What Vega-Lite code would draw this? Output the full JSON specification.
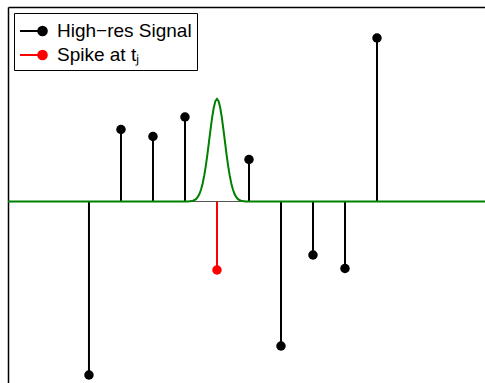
{
  "$schema": "https://vega.github.io/schema/vega-lite/v6.json",
  "width": 477,
  "height": 376,
  "padding": {"left": 8, "top": 7, "right": 0, "bottom": 0},
  "autosize": {"type": "none"},
  "background": "white",
  "config": {
    "view": {"stroke": null},
    "axis": {"domain": true, "domainColor": "black", "domainWidth": 1.5, "ticks": false, "labels": false, "grid": false, "title": null}
  },
  "datasets": {
    "stems": [
      {"t": 1, "v": -1.735, "series": "High−res Signal"},
      {"t": 2, "v": 0.72, "series": "High−res Signal"},
      {"t": 3, "v": 0.65, "series": "High−res Signal"},
      {"t": 4, "v": 0.845, "series": "High−res Signal"},
      {"t": 5, "v": -0.685, "series": "Spike at tⱼ"},
      {"t": 6, "v": 0.42, "series": "High−res Signal"},
      {"t": 7, "v": -1.445, "series": "High−res Signal"},
      {"t": 8, "v": -0.535, "series": "High−res Signal"},
      {"t": 9, "v": -0.67, "series": "High−res Signal"},
      {"t": 10, "v": 1.635, "series": "High−res Signal"}
    ],
    "gauss": [
      {"t": -1.53, "g": 0},
      {"t": 4.0, "g": 0},
      {"t": 4.1, "g": 0.001},
      {"t": 4.2, "g": 0.004},
      {"t": 4.25, "g": 0.008},
      {"t": 4.3, "g": 0.015},
      {"t": 4.35, "g": 0.026},
      {"t": 4.4, "g": 0.045},
      {"t": 4.45, "g": 0.074},
      {"t": 4.5, "g": 0.117},
      {"t": 4.55, "g": 0.177},
      {"t": 4.6, "g": 0.256},
      {"t": 4.65, "g": 0.354},
      {"t": 4.7, "g": 0.469},
      {"t": 4.75, "g": 0.596},
      {"t": 4.8, "g": 0.724},
      {"t": 4.85, "g": 0.843},
      {"t": 4.9, "g": 0.94},
      {"t": 4.95, "g": 1.003},
      {"t": 5.0, "g": 1.025},
      {"t": 5.05, "g": 1.003},
      {"t": 5.1, "g": 0.94},
      {"t": 5.15, "g": 0.843},
      {"t": 5.2, "g": 0.724},
      {"t": 5.25, "g": 0.596},
      {"t": 5.3, "g": 0.469},
      {"t": 5.35, "g": 0.354},
      {"t": 5.4, "g": 0.256},
      {"t": 5.45, "g": 0.177},
      {"t": 5.5, "g": 0.117},
      {"t": 5.55, "g": 0.074},
      {"t": 5.6, "g": 0.045},
      {"t": 5.65, "g": 0.026},
      {"t": 5.7, "g": 0.015},
      {"t": 5.75, "g": 0.008},
      {"t": 5.8, "g": 0.004},
      {"t": 5.9, "g": 0.001},
      {"t": 6.0, "g": 0},
      {"t": 13.375, "g": 0}
    ]
  },
  "layer": [
    {
      "data": {"name": "stems"},
      "mark": {"type": "rule", "color": "#555555", "strokeWidth": 1},
      "encoding": {
        "y": {"datum": 0, "type": "quantitative", "scale": {"domain": [-1.815, 1.945], "nice": false, "zero": false}}
      }
    },
    {
      "data": {"name": "stems"},
      "mark": {"type": "rule", "strokeWidth": 2},
      "encoding": {
        "x": {"field": "t", "type": "quantitative", "scale": {"domain": [-1.53, 13.375], "nice": false, "zero": false}, "axis": {"orient": "top", "title": null}},
        "y": {"field": "v", "type": "quantitative", "scale": {"domain": [-1.815, 1.945], "nice": false, "zero": false}, "axis": {"orient": "left", "title": null}},
        "y2": {"datum": 0},
        "color": {
          "field": "series", "type": "nominal",
          "scale": {"domain": ["High−res Signal", "Spike at tⱼ"], "range": ["black", "#ff0000"]},
          "legend": {
            "title": null,
            "orient": "none",
            "legendX": 6,
            "legendY": 6,
            "strokeColor": "black",
            "fillColor": "white",
            "padding": 5,
            "symbolType": "M-1,0L0.875,0M1.235,0A0.36,0.36,0,1,1,0.515,0A0.36,0.36,0,1,1,1.235,0Z",
            "symbolSize": 576,
            "symbolStrokeWidth": 2,
            "labelFont": "Liberation Sans",
            "labelFontSize": 19,
            "labelColor": "black",
            "labelOffset": 12,
            "rowPadding": 1,
            "labelLimit": 300,
            "encode": {"symbols": {"update": {"fill": {"scale": "color", "field": "value"}, "stroke": {"scale": "color", "field": "value"}, "opacity": {"value": 1}}}}
          }
        }
      }
    },
    {
      "data": {"name": "stems"},
      "mark": {"type": "point", "filled": true, "size": 90, "opacity": 1},
      "encoding": {
        "x": {"field": "t", "type": "quantitative"},
        "y": {"field": "v", "type": "quantitative"},
        "color": {"field": "series", "type": "nominal"}
      }
    },
    {
      "data": {"name": "gauss"},
      "mark": {"type": "line", "color": "#008000", "strokeWidth": 2},
      "encoding": {
        "x": {"field": "t", "type": "quantitative"},
        "y": {"field": "g", "type": "quantitative"}
      }
    }
  ]
}
